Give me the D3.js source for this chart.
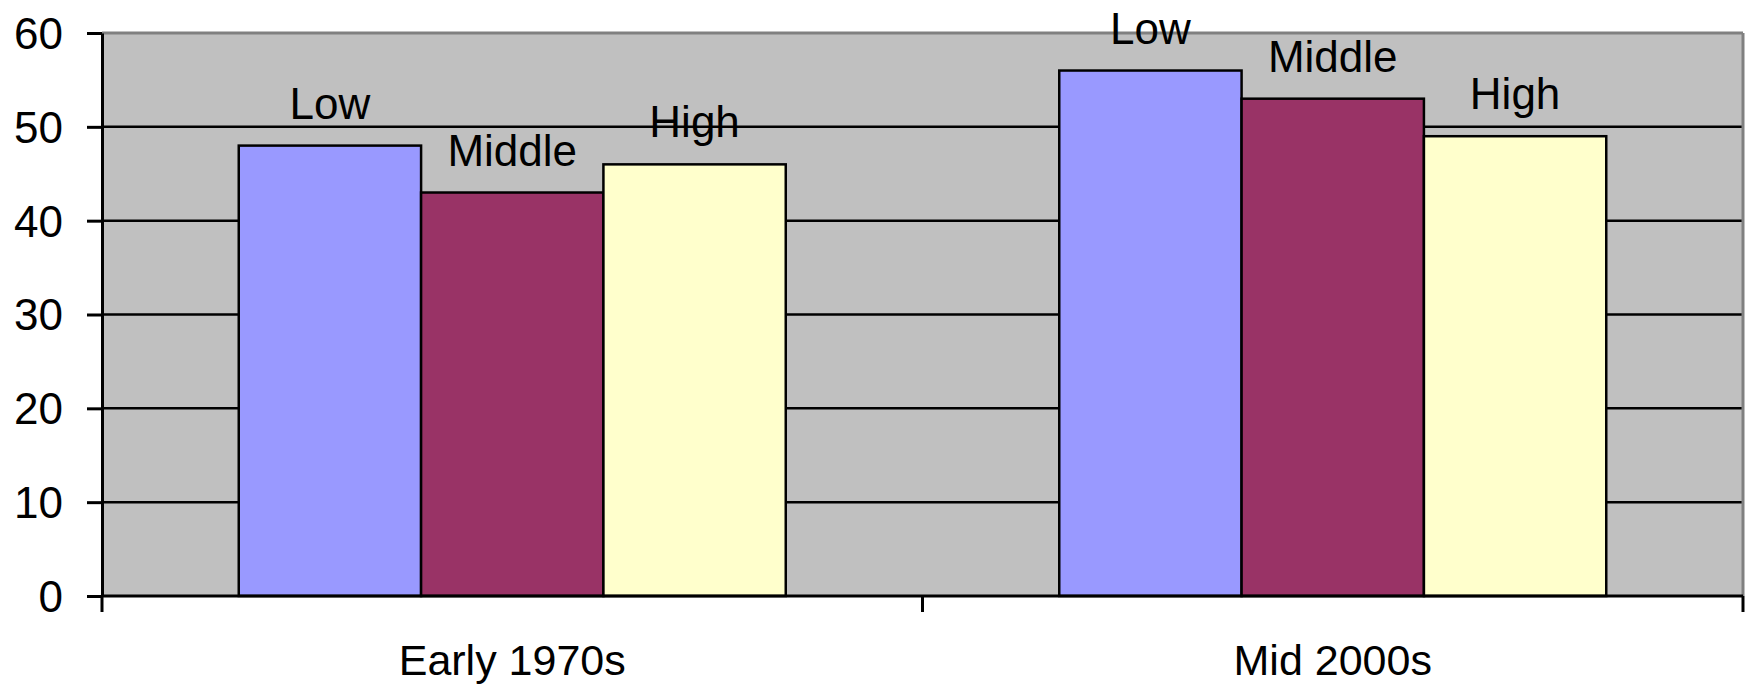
<!DOCTYPE html>
<html>
<head>
<meta charset="utf-8">
<script src="https://cdn.jsdelivr.net/npm/d3@7"></script>
<style>
  html, body { margin: 0; padding: 0; background: #ffffff; }
  svg { display: block; }
  text { font-family: "Liberation Sans", Arial, sans-serif; fill: #000; }
</style>
</head>
<body>
<svg id="chart" width="1750" height="685"></svg>
<script>
// Chart data
const categories = ["Early 1970s", "Mid 2000s"];
const seriesNames = ["Low", "Middle", "High"];
const lowValues = [48, 56];
const middleValues = [43, 53];
const highValues = [46, 49];
const yTicks = [0, 10, 20, 30, 40, 50, 60];

const seriesValues = [lowValues, middleValues, highValues];
const seriesColors = ["#9999FF", "#993366", "#FFFFCC"];

const width = 1750, height = 685;
const margin = { top: 33, right: 7, bottom: 89, left: 102 };
const plotW = width - margin.left - margin.right;
const plotH = height - margin.top - margin.bottom;

const svg = d3.select("#chart");
const g = svg.append("g").attr("transform", `translate(${margin.left},${margin.top})`);

const x0 = d3.scaleBand().domain(categories).range([0, plotW]).paddingInner(0).paddingOuter(0);
// Gap width of 150%: each band holds 3 bars plus 1.5 bar-widths of gap
const barW = x0.bandwidth() / (seriesNames.length + 1.5);
const x1 = d3.scaleBand().domain(seriesNames)
  .range([(x0.bandwidth() - barW * 3) / 2, (x0.bandwidth() + barW * 3) / 2]);
const y = d3.scaleLinear().domain([0, 60]).range([plotH, 0]);

// Plot area background
g.append("rect").attr("x", 0).attr("y", 0).attr("width", plotW).attr("height", plotH)
  .attr("fill", "#C0C0C0");

// Horizontal gridlines
g.append("g").selectAll("line").data(yTicks.filter(d => d > 0 && d < 60)).join("line")
  .attr("x1", 0).attr("x2", plotW)
  .attr("y1", d => y(d)).attr("y2", d => y(d))
  .attr("stroke", "#000").attr("stroke-width", 2.5);

// Plot area border (top and right in grey)
g.append("line").attr("x1", 0).attr("x2", plotW).attr("y1", 0).attr("y2", 0)
  .attr("stroke", "#808080").attr("stroke-width", 3);
g.append("line").attr("x1", plotW).attr("x2", plotW).attr("y1", 0).attr("y2", plotH)
  .attr("stroke", "#808080").attr("stroke-width", 3);

// Bars
const groups = g.append("g").selectAll("g").data(categories).join("g")
  .attr("transform", d => `translate(${x0(d)},0)`);

groups.selectAll("rect")
  .data((c, ci) => seriesNames.map((s, si) => ({ s, si, v: seriesValues[si][ci] })))
  .join("rect")
  .attr("x", d => x1(d.s))
  .attr("y", d => y(d.v))
  .attr("width", barW)
  .attr("height", d => plotH - y(d.v))
  .attr("fill", d => seriesColors[d.si])
  .attr("stroke", "#000").attr("stroke-width", 2.5);

// Series-name labels above bars
groups.selectAll("text")
  .data((c, ci) => seriesNames.map((s, si) => ({ s, si, v: seriesValues[si][ci] })))
  .join("text")
  .attr("x", d => x1(d.s) + barW / 2)
  .attr("y", d => y(d.v) - 27)
  .attr("text-anchor", "middle")
  .attr("font-size", 44)
  .text(d => d.s);

// Y axis
const yAxis = d3.axisLeft(y).tickValues(yTicks).tickSize(15).tickPadding(24).tickSizeOuter(0);
const yg = g.append("g").call(yAxis);
yg.select(".domain").attr("stroke", "#000").attr("stroke-width", 3);
yg.selectAll(".tick line").attr("stroke", "#000").attr("stroke-width", 3);
yg.selectAll(".tick text").attr("font-size", 44).attr("font-family", "Liberation Sans, Arial, sans-serif")
  .attr("fill", "#000").attr("dy", "0.35em");

// X axis with ticks at category boundaries
const xg = g.append("g").attr("transform", `translate(0,${plotH})`);
xg.append("line").attr("x1", 0).attr("x2", plotW).attr("y1", 0).attr("y2", 0)
  .attr("stroke", "#000").attr("stroke-width", 3);
const boundaries = [0, ...categories.map(c => x0(c) + x0.bandwidth())];
xg.selectAll("line.tk").data(boundaries).join("line").attr("class", "tk")
  .attr("x1", d => d).attr("x2", d => d).attr("y1", 0).attr("y2", 16)
  .attr("stroke", "#000").attr("stroke-width", 3);
xg.selectAll("text").data(categories).join("text")
  .attr("x", d => x0(d) + x0.bandwidth() / 2)
  .attr("y", 79)
  .attr("text-anchor", "middle")
  .attr("font-size", 43)
  .text(d => d);
</script>
</body>
</html>
